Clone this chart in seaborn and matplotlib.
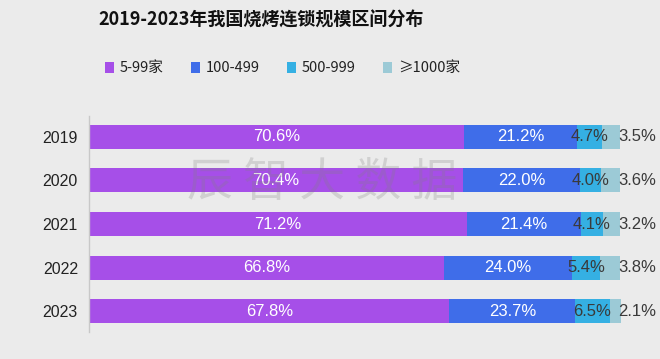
import pandas as pd
import matplotlib
matplotlib.use('Agg')
import matplotlib.pyplot as plt
import seaborn as sns
import numpy as np
from matplotlib.patches import Patch

# Données
years = ['2019', '2020', '2021', '2022', '2023']
series = ['5-99家', '100-499', '500-999', '≥1000家']
s_5_99 = [70.6, 70.4, 71.2, 66.8, 67.8]
s_100_499 = [21.2, 22.0, 21.4, 24.0, 23.7]
s_500_999 = [4.7, 4.0, 4.1, 5.4, 6.5]
s_1000 = [3.5, 3.6, 3.2, 3.8, 2.1]

colors = ['#a64fe8', '#3f6de9', '#35b0e3', '#9ccad6']
label_colors = ['white', 'white', '#3a3a3a', '#3a3a3a']
bg = '#ebebeb'

values = [s_5_99, s_100_499, s_500_999, s_1000]
cum = np.cumsum(np.array(values), axis=0)

sns.set_theme(style='white')
plt.rcParams['font.family'] = ['Liberation Sans', 'Noto Sans CJK SC', 'DejaVu Sans']
cjk = ['Noto Sans CJK SC', 'DejaVu Sans']

fig = plt.figure(figsize=(6.6, 3.59), dpi=100, facecolor=bg)
ax = fig.add_axes([0.135, 0.075, 0.855, 0.602])
ax.set_facecolor(bg)

# Barres empilées : on dessine les cumuls du plus grand au plus petit
for i in range(len(series) - 1, -1, -1):
    df = pd.DataFrame({'year': years, 'val': cum[i]})
    sns.barplot(data=df, y='year', x='val', orient='h', color=colors[i],
                saturation=1, width=0.55, linewidth=0, edgecolor='none', ax=ax)

ax.set_xlim(0, 100 * 564 / 531)
ax.set_ylim(4.48, -0.48)
ax.set_xlabel('')
ax.set_ylabel('')
ax.set_xticks([])
ax.tick_params(axis='y', length=0, labelsize=11.5, colors='#222222', pad=8)
for side in ['top', 'right', 'bottom']:
    ax.spines[side].set_visible(False)
ax.spines['left'].set_color('#c8c8c8')
ax.spines['left'].set_linewidth(1)

# Etiquettes
for j in range(len(years)):
    for i in range(len(series)):
        start = cum[i][j] - values[i][j]
        if i < 3:
            x = start + values[i][j] / 2
        else:
            x = 103.1
        ax.text(x, j, f'{values[i][j]:.1f}%', ha='center', va='center',
                fontsize=12, color=label_colors[i])

# Filigrane
fig.text(0.488, 0.49, '辰 智 大 数 据', ha='center', va='center', fontsize=33,
         color='#808080', alpha=0.25, family=cjk)

# Titre
fig.text(0.395, 0.944, '2019-2023年我国烧烤连锁规模区间分布', ha='center', va='center',
         fontsize=13, fontweight='bold', color='#111111', family=cjk)

# Légende
handles = [Patch(facecolor=c, edgecolor='none') for c in colors]
leg = fig.legend(handles, series, loc='center', bbox_to_anchor=(0.428, 0.81), ncol=4,
                 frameon=False, handlelength=0.6, handleheight=0.8, handletextpad=0.4,
                 columnspacing=1.9, prop={'family': cjk, 'size': 10.5})
for t in leg.get_texts():
    t.set_color('#222222')

fig.savefig('out.png', dpi=100, facecolor=bg)
